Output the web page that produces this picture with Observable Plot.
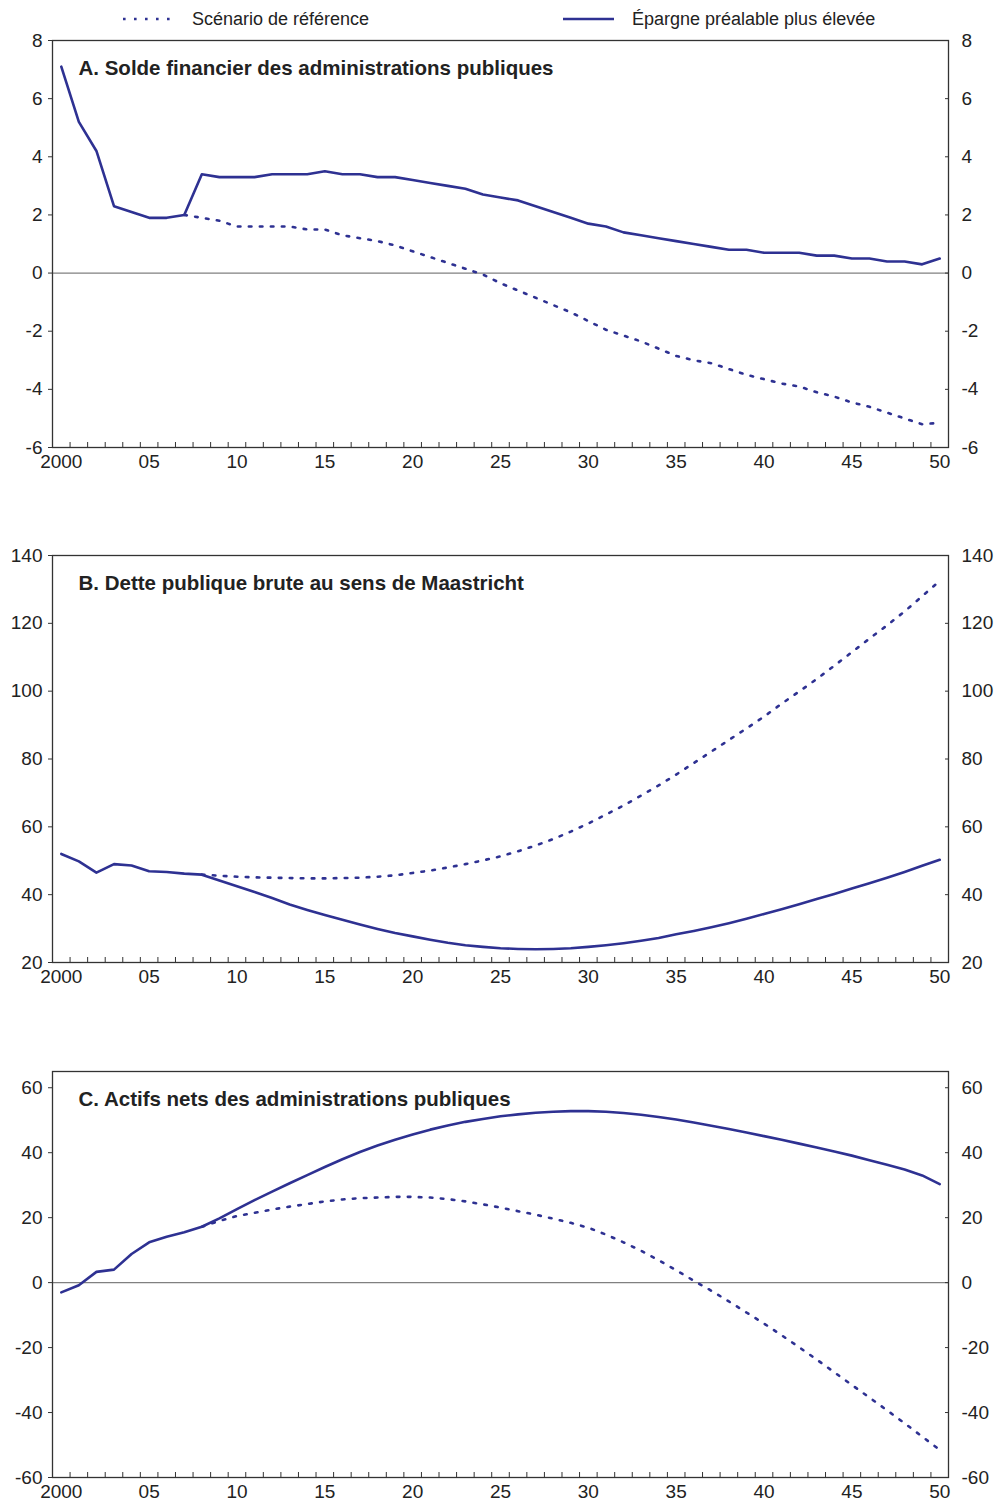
<!DOCTYPE html>
<html>
<head>
<meta charset="utf-8">
<script src="https://cdn.jsdelivr.net/npm/d3@7"></script>
<script src="https://cdn.jsdelivr.net/npm/@observablehq/plot@0.6"></script>
<style>
  body { margin: 0; background: #fff; }
  #root { position: relative; width: 996px; height: 1502px; font-family: "Liberation Sans", Arial, Helvetica, sans-serif; color: #222; }
  .panel { position: absolute; left: 0; }
  #legend { position: absolute; left: 0; top: 0; width: 996px; height: 40px; }
</style>
</head>
<body>
<div id="root">
  <svg id="legend" width="996" height="40"></svg>
</div>
<script>
// ---- Data ----
const years = d3.range(2000, 2051);
const labelYears = [2000, 2005, 2010, 2015, 2020, 2025, 2030, 2035, 2040, 2045, 2050];
const seriesNames = ["Scénario de référence", "Épargne préalable plus élevée"];
const panelTitles = [
  "A. Solde financier des administrations publiques",
  "B. Dette publique brute au sens de Maastricht",
  "C. Actifs nets des administrations publiques"
];
const yTicksA = [-6, -4, -2, 0, 2, 4, 6, 8];
const yTicksB = [20, 40, 60, 80, 100, 120, 140];
const yTicksC = [-60, -40, -20, 0, 20, 40, 60];

// Panel A: solde financier (2000-2050)
const soldeHaute = [7.1, 5.2, 4.2, 2.3, 2.1, 1.9, 1.9, 2.0, 3.4, 3.3,
  3.3, 3.3, 3.4, 3.4, 3.4, 3.5, 3.4, 3.4, 3.3, 3.3,
  3.2, 3.1, 3.0, 2.9, 2.7, 2.6, 2.5, 2.3, 2.1, 1.9,
  1.7, 1.6, 1.4, 1.3, 1.2, 1.1, 1.0, 0.9, 0.8, 0.8,
  0.7, 0.7, 0.7, 0.6, 0.6, 0.5, 0.5, 0.4, 0.4, 0.3, 0.5];
// reference scenario from 2007
const soldeRefStart = 2007;
const soldeRef = [2.0, 1.9, 1.8, 1.6, 1.6, 1.6, 1.6, 1.5, 1.5, 1.3,
  1.2, 1.1, 0.95, 0.75, 0.55, 0.35, 0.15, -0.05, -0.35, -0.6,
  -0.85, -1.1, -1.35, -1.65, -1.95, -2.15, -2.35, -2.6, -2.85, -3.0,
  -3.1, -3.3, -3.5, -3.65, -3.8, -3.9, -4.1, -4.25, -4.45, -4.6,
  -4.8, -5.0, -5.2, -5.15];

// Panel B: dette brute (2000-2050)
const detteHaute = [52.0, 49.8, 46.5, 49.0, 48.6, 46.9, 46.7, 46.2, 45.9, 44.2,
  42.5, 40.8, 39.0, 37.1, 35.5, 34.0, 32.6, 31.2, 29.9, 28.7,
  27.7, 26.7, 25.8, 25.1, 24.6, 24.2, 24.0, 23.9, 24.0, 24.2,
  24.6, 25.1, 25.7, 26.4, 27.2, 28.3, 29.3, 30.4, 31.6, 32.9,
  34.3, 35.7, 37.2, 38.7, 40.2, 41.8, 43.4, 45.0, 46.7, 48.5, 50.3];
const detteRefStart = 2008;
const detteRef = [45.9, 45.6, 45.3, 45.1, 45.0, 44.9, 44.8, 44.8, 44.9, 45.0,
  45.3, 45.7, 46.4, 47.1, 48.0, 49.0, 50.1, 51.3, 52.8, 54.5,
  56.4, 58.6, 61.0, 63.6, 66.3, 69.2, 72.2, 75.4, 78.8, 82.2,
  85.6, 89.0, 92.5, 96.3, 99.9, 103.6, 107.5, 111.5, 115.5, 119.4,
  123.5, 128.0, 132.5];

// Panel C: actifs nets (2000-2050)
const actifsHaute = [-3.0, -0.8, 3.3, 4.0, 8.8, 12.4, 14.1, 15.5, 17.2, 19.8,
  22.6, 25.4, 28.0, 30.6, 33.1, 35.6, 38.0, 40.2, 42.2, 44.0,
  45.6, 47.1, 48.4, 49.5, 50.4, 51.2, 51.8, 52.3, 52.6, 52.8,
  52.8, 52.6, 52.2, 51.7, 51.0, 50.2, 49.3, 48.3, 47.3, 46.2,
  45.1, 44.0, 42.8, 41.6, 40.4, 39.1, 37.7, 36.3, 34.8, 33.0, 30.3];
const actifsRefStart = 2008;
const actifsRef = [17.2, 19.0, 20.5, 21.5, 22.5, 23.4, 24.2, 25.0, 25.6, 26.0,
  26.2, 26.4, 26.4, 26.2, 25.7, 25.0, 24.1, 23.1, 22.0, 20.9,
  19.7, 18.4, 16.9, 14.8, 12.4, 9.8, 6.9, 3.8, 0.6, -2.5,
  -5.8, -9.2, -12.6, -16.2, -19.9, -23.7, -27.6, -31.5, -35.4, -39.3,
  -43.3, -47.4, -51.5];

// ---- Styling ----
const BLUE = "#2e3192";
const FONT = '"Liberation Sans", Arial, Helvetica, sans-serif';
const DASH = "2.6,8.4";
const halfYears = years.slice(0, -1).map(y => y + 0.5);
const fmtYear = d => d === 2000 ? "2000" : String(d % 100).padStart(2, "0");
const fmtNum = d => String(d);

function toRows(values, start) {
  return values.map((v, i) => ({year: start + i, value: v}));
}

function panel({top, height, domain, ticks, title, high, ref, refStart, zero}) {
  const svg = Plot.plot({
    width: 996,
    height,
    marginTop: 40,
    marginBottom: height - 40 - (domain.h),
    marginLeft: 52,
    marginRight: 48,
    style: {fontFamily: FONT, fontSize: "19px", color: "#222", background: "transparent", overflow: "visible"},
    x: {domain: [1999.5, 2050.5], label: null},
    y: {domain: domain.d, label: null},
    marks: [
      zero ? Plot.ruleY([0], {stroke: "#808080", strokeWidth: 1.2}) : null,
      Plot.line(toRows(ref, refStart), {x: "year", y: "value", stroke: BLUE, strokeWidth: 2.6, strokeDasharray: DASH}),
      Plot.line(toRows(high, 2000), {x: "year", y: "value", stroke: BLUE, strokeWidth: 2.6}),
      Plot.frame({stroke: "#333", strokeWidth: 1.3}),
      Plot.axisX(halfYears, {anchor: "bottom", tickSize: 5, dy: -5, fill: "none", stroke: "#333", label: null}),
      Plot.axisX(labelYears, {anchor: "bottom", tickSize: 0, tickPadding: 7, tickFormat: fmtYear, fontSize: 19, label: null}),
      Plot.axisY(ticks, {anchor: "left", tickSize: 4, tickPadding: 6, tickFormat: fmtNum, fontSize: 19, stroke: "#333", label: null}),
      Plot.axisY(ticks, {anchor: "right", tickSize: 4, dx: -4, fill: "none", stroke: "#333", label: null}),
      Plot.axisY(ticks, {anchor: "right", tickSize: 0, tickPadding: 13, tickFormat: fmtNum, fontSize: 19, label: null}),
      Plot.text([title], {frameAnchor: "top-left", dx: 26, dy: 28, text: d => d, fontWeight: "bold", fontSize: 20.5, textAnchor: "start", lineAnchor: "middle", fill: "#222"})
    ]
  });
  svg.classList.add("panel");
  svg.style.top = top + "px";
  svg.style.position = "absolute";
  document.getElementById("root").appendChild(svg);
}

panel({top: 0, height: 480, domain: {d: [-6, 8], h: 407}, ticks: yTicksA, title: panelTitles[0],
  high: soldeHaute, ref: soldeRef, refStart: soldeRefStart, zero: true});
panel({top: 515, height: 480, domain: {d: [20, 140], h: 407}, ticks: yTicksB, title: panelTitles[1],
  high: detteHaute, ref: detteRef, refStart: detteRefStart, zero: false});
panel({top: 1031, height: 480, domain: {d: [-60, 65], h: 406}, ticks: yTicksC, title: panelTitles[2],
  high: actifsHaute, ref: actifsRef, refStart: actifsRefStart, zero: true});

// ---- Legend ----
const lg = d3.select("#legend");
lg.append("line").attr("x1", 123).attr("x2", 176).attr("y1", 19).attr("y2", 19)
  .attr("stroke", BLUE).attr("stroke-width", 2.6).attr("stroke-dasharray", "2.6,8.4");
lg.append("text").attr("x", 192).attr("y", 25).text(seriesNames[0])
  .attr("font-family", FONT).attr("font-size", 18).attr("fill", "#222");
lg.append("line").attr("x1", 563).attr("x2", 614).attr("y1", 19).attr("y2", 19)
  .attr("stroke", BLUE).attr("stroke-width", 2.6);
lg.append("text").attr("x", 632).attr("y", 25).text(seriesNames[1])
  .attr("font-family", FONT).attr("font-size", 18).attr("fill", "#222");
</script>
</body>
</html>
